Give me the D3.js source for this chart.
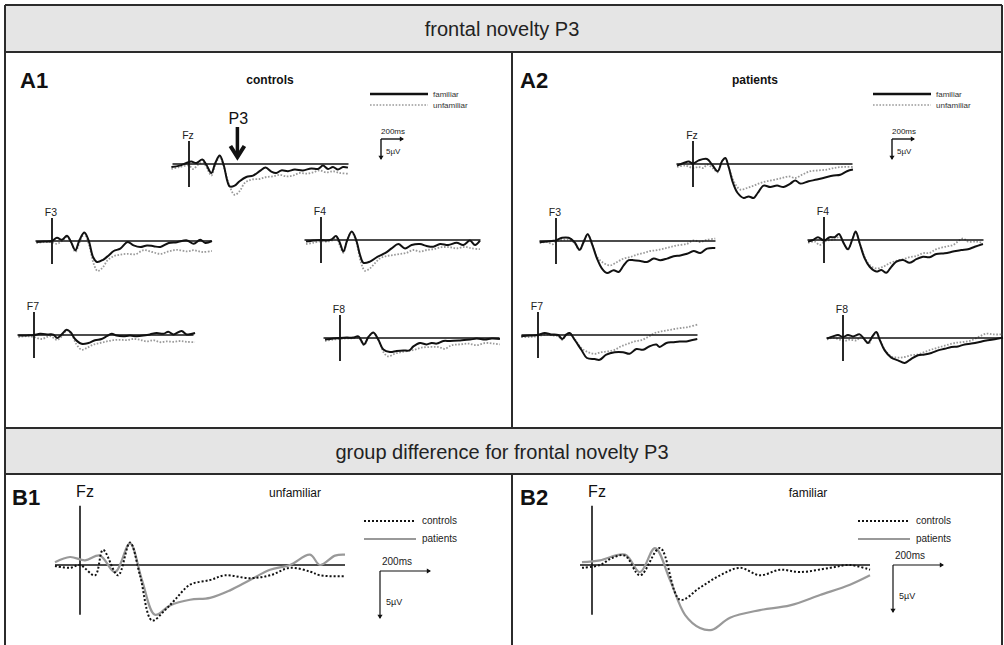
<!DOCTYPE html>
<html><head><meta charset="utf-8">
<script src="https://cdn.jsdelivr.net/npm/d3@7"></script>
<style>body{margin:0;background:#fff}svg{display:block;font-family:"Liberation Sans",Arial,sans-serif}</style>
</head><body><script>
// ---------- DATA (time in ms, amplitude in µV; positive plotted downward) ----------
const panelTitles = ["frontal novelty P3", "group difference for frontal novelty P3"];
const conditionsA = ["familiar", "unfamiliar"];
const groupsB = ["controls", "patients"];
const channelsA = ["Fz", "F3", "F4", "F7", "F8"];

const A1_Fz_familiar = [[-160,0.75],[-85,0.4],[-24,-0.25],[21,-0.6],[67,-0.25],[121,-1.1],[158,0.2],[203,2.25],[239,-0.25],[279,-2.1],[315,0.2],[345,3.9],[370,5.6],[415,5.4],[460,4.3],[521,3.25],[582,2.9],[642,1.8],[697,0.9],[748,1.9],[794,2.25],[839,1.6],[900,1.8],[960,1.4],[1036,1.6],[1112,1.1],[1173,1.25],[1218,0.4],[1264,1.25],[1309,0.75],[1354,1.4],[1400,0.75],[1445,0.9]];
const A1_Fz_unfamiliar = [[-160,1.25],[-85,0.75],[0,0.4],[36,1.25],[82,0.2],[127,-0.4],[158,0.75],[203,2.9],[239,0.2],[279,-1.75],[324,1.4],[370,5.6],[415,7.7],[460,6.8],[506,4.75],[567,3.9],[642,3.75],[703,3.25],[764,3.1],[824,2.7],[885,3.1],[945,2.9],[1006,2.25],[1067,2.4],[1127,2.1],[1188,1.6],[1248,2.1],[1309,1.8],[1370,2.25],[1445,2.4]];
const A1_F3_familiar = [[-142,0.25],[-76,0.15],[0,0],[45,-0.8],[91,-0.3],[136,-1.3],[173,0.25],[212,2.3],[251,-0.3],[294,-2.1],[333,-0.15],[373,4],[409,5.25],[464,4.7],[515,3.6],[561,2.5],[621,1.9],[688,0.25],[742,1.1],[803,1.5],[864,1.1],[924,1.3],[985,1.5],[1061,0.5],[1136,0.3],[1227,-0.15],[1288,0.7],[1348,-0.3],[1394,0.5],[1454,0]];
const A1_F3_unfamiliar = [[-142,0.5],[-76,0.3],[0,0.3],[45,0.7],[91,0],[136,-1],[182,0.8],[212,2.75],[258,-0.15],[294,-1.8],[342,1.5],[379,5.7],[415,7.5],[464,6.5],[506,4.8],[561,3.8],[621,3.4],[682,3.2],[758,3.3],[833,2.3],[909,2.75],[985,3.2],[1061,2.6],[1136,2.2],[1227,2.6],[1288,2.3],[1364,2.75],[1454,2.5]];
const A1_F4_familiar = [[-136,0.4],[-70,0.15],[0,0],[52,0.15],[97,-0.15],[136,-1],[173,0.8],[203,2.9],[239,0],[279,-2.1],[318,-0.15],[355,3.75],[385,5.7],[445,5.4],[512,4.2],[582,3.3],[642,2.1],[703,1],[764,2.1],[824,1.25],[900,1],[960,1.5],[1021,1.7],[1082,1],[1157,1.25],[1233,0.7],[1294,1.25],[1354,0.15],[1400,1.25],[1445,0.15]];
const A1_F4_unfamiliar = [[-136,1],[-70,0.7],[0,0.3],[52,0.4],[97,0.15],[136,-0.7],[173,1.5],[203,3.2],[239,0],[279,-1.9],[324,0.8],[361,5.4],[400,7.7],[445,7.1],[491,5.8],[536,4.6],[597,4],[658,3.75],[718,3.5],[779,3.2],[839,2.5],[900,2.9],[960,2.5],[1021,2.3],[1097,1.8],[1173,1.8],[1233,2.1],[1309,1.7],[1370,2.1],[1445,2.3]];
const A1_F7_familiar = [[-142,0.15],[-67,0.1],[0,0],[55,-0.3],[130,-0.15],[176,-0.1],[212,0.75],[251,-0.15],[297,-1.3],[333,-0.7],[373,1],[433,2.2],[494,2],[554,1.3],[615,1],[661,0.3],[706,-0.3],[751,0.15],[812,0.3],[873,0.15],[933,0.3],[994,0.15],[1054,-0.15],[1115,-0.5],[1176,-0.3],[1221,-0.8],[1267,-0.15],[1342,-1],[1388,-0.15],[1464,-0.5]];
const A1_F7_unfamiliar = [[-142,0.5],[-67,0.3],[0,0.5],[70,1],[145,0.3],[212,1.2],[267,-0.15],[297,-1.2],[342,-0.1],[388,2.4],[433,3.7],[479,3.25],[539,2.4],[600,2],[661,1.6],[721,1.3],[782,1.2],[842,1.3],[903,1],[964,1.2],[1024,1.6],[1085,1.3],[1145,1.8],[1206,1.6],[1267,1.7],[1327,1.5],[1388,1.7],[1464,1.8]];
const A1_F8_familiar = [[-136,0.4],[-61,0.15],[0,0],[61,-0.1],[121,-0.1],[167,-0.4],[218,1.6],[258,-0.25],[303,-1.4],[348,0.4],[394,2.9],[454,3.5],[515,3.25],[576,3.1],[630,3.1],[667,2.1],[727,1.25],[788,1.6],[833,1.25],[879,1.4],[939,0.75],[1000,0.75],[1091,0.6],[1182,0.4],[1242,0.15],[1318,0.4],[1379,0.15],[1454,0.25]];
const A1_F8_unfamiliar = [[-136,0.75],[-61,0.4],[0,0.25],[61,0.1],[121,0.1],[167,-0.1],[218,1.8],[258,-0.1],[303,-1.25],[358,1],[400,3.75],[439,4.6],[500,3.9],[561,3.5],[621,3.25],[682,2.9],[742,2.4],[818,2.25],[894,2.25],[954,2.7],[1015,1.8],[1091,1.6],[1167,1.4],[1242,1.8],[1318,1.25],[1394,1.4],[1454,1.6]];

const A2_Fz_familiar = [[-145,0.4],[-85,-0.25],[-39,-0.6],[0,-0.1],[52,-0.9],[127,-1.25],[173,0.15],[224,1.8],[264,-0.7],[294,-1.5],[324,0.75],[364,4.75],[406,7.25],[461,8.5],[506,8.1],[552,8.5],[588,7.25],[642,5.4],[703,5.75],[764,5.4],[824,5.75],[885,4.9],[930,4.1],[976,4.9],[1051,4.3],[1127,3.9],[1218,3.25],[1279,2.9],[1339,2.7],[1400,1.8],[1454,1.4]];
const A2_Fz_unfamiliar = [[-145,0.75],[-70,0.4],[0,1],[52,0.75],[97,1],[127,0.15],[188,1.25],[224,2.1],[264,-0.7],[294,-1.3],[324,0.75],[370,4.3],[430,6.4],[491,6],[552,5.4],[612,4.75],[673,4.3],[748,3.9],[809,3.5],[870,3.1],[930,3.5],[991,2.7],[1067,1.8],[1142,1.6],[1218,1.4],[1279,1],[1354,0.75],[1454,0.75]];
const A2_F3_familiar = [[-148,0.3],[-82,0.15],[-36,0],[0,-0.15],[55,-0.8],[115,-0.8],[167,0.25],[215,2.2],[251,0.25],[288,-1.7],[327,0.7],[373,4.4],[418,6.9],[464,8],[524,7.3],[570,7.75],[615,6.1],[661,4.8],[706,4.8],[767,5],[827,5.25],[888,4.4],[948,4.8],[1009,4.4],[1070,3.8],[1130,3.6],[1191,3.2],[1251,2.5],[1312,3],[1373,1.9],[1448,1.75]];
const A2_F3_unfamiliar = [[-148,0.5],[-82,0.25],[-27,0.8],[9,0],[70,-0.3],[115,-0.3],[167,0.5],[215,2.3],[251,0.25],[288,-1.7],[327,0.7],[373,4],[433,5.5],[494,6.1],[555,5.25],[615,4.4],[676,4],[736,3.4],[797,3],[858,2.5],[918,2.3],[979,1.9],[1039,1.5],[1100,1.1],[1191,0.7],[1251,-0.15],[1312,0.25],[1373,-0.3],[1448,-0.6]];
const A2_F4_familiar = [[-145,0.4],[-100,0],[-55,-0.7],[0,0.15],[52,-0.7],[97,-0.7],[136,-1.5],[179,0.8],[218,2.3],[258,-0.15],[288,-2.1],[324,0.8],[370,4.6],[415,6.7],[476,7.9],[521,7.5],[567,8.2],[612,6.7],[658,5.4],[718,5],[779,5.7],[839,4.8],[900,4.2],[960,4.3],[1021,3.5],[1097,3.3],[1173,2.9],[1248,2.5],[1309,2.3],[1370,1.7],[1445,1]];
const A2_F4_unfamiliar = [[-145,0.7],[-85,0.4],[-39,1.25],[6,0.4],[52,0],[97,-0.15],[142,-0.8],[188,1.25],[218,2.5],[258,-0.15],[288,-1.9],[324,0.8],[370,4.3],[415,6.25],[476,7.1],[536,6.7],[597,5.8],[658,5.2],[718,4.8],[779,4.3],[839,4],[900,3.3],[960,3.2],[1021,2.3],[1097,1.7],[1173,1.25],[1264,-0.4],[1309,0.4],[1385,0.4],[1445,0.7]];
const A2_F7_familiar = [[-152,0.3],[-76,0.15],[0,0],[61,-0.5],[121,-0.15],[182,0],[221,1],[258,-0.15],[288,-0.5],[333,1.2],[394,3.7],[445,5.75],[515,6],[561,6.2],[621,4.9],[697,4.3],[773,4.3],[833,4.7],[894,3.5],[955,3.7],[1015,2.8],[1076,2.4],[1106,3],[1167,2],[1227,1.8],[1288,1.6],[1348,1.6],[1394,1.3],[1448,1]];
const A2_F7_unfamiliar = [[-152,0.5],[-76,0.5],[0,0.3],[76,-0.15],[136,0.15],[182,0.3],[221,1.2],[258,-0.15],[288,-0.3],[333,1],[394,3.25],[455,4.3],[515,4.7],[576,4.3],[636,4.1],[697,3.7],[758,2.8],[818,2.2],[879,1.6],[939,1.3],[1000,0.5],[1061,-0.5],[1121,-0.9],[1182,-1.2],[1242,-1.5],[1303,-1.75],[1364,-2],[1448,-2.6]];
const A2_F8_familiar = [[-145,0.15],[-91,-0.4],[-45,-0.75],[0,-0.25],[45,-0.75],[91,-0.4],[152,-0.9],[197,0.4],[227,1.25],[267,-0.4],[303,-1.5],[333,0.4],[379,3.1],[439,4.9],[500,5.6],[561,6.25],[621,5.2],[682,4.3],[742,4.1],[803,3.75],[864,3.1],[924,2.7],[985,2.25],[1045,2.1],[1106,1.6],[1167,1.4],[1242,1],[1303,0.6],[1364,0.4],[1454,-0.1]];
const A2_F8_unfamiliar = [[-145,0.4],[-91,-0.1],[-30,0.4],[15,0.75],[61,0.4],[121,0.6],[167,-0.4],[212,1],[236,1.4],[267,-0.25],[303,-1.3],[339,0.6],[379,2.9],[439,4.6],[500,4.9],[561,4.75],[621,4.3],[682,4.1],[742,3.5],[803,2.9],[864,2.4],[939,1.8],[1015,1.25],[1091,1],[1167,0.6],[1242,-0.4],[1303,-1.1],[1364,-0.9],[1454,-0.9]];

const B1_unfamiliar_controls = [[-100,0.1],[-40,0.3],[0,0],[60,1.1],[92,-1.6],[152,1.1],[200,-2.4],[240,1.1],[288,5.9],[340,4.8],[380,3.7],[440,2.1],[520,1.6],[580,1.1],[680,1.4],[760,1.1],[840,0.3],[920,0.7],[960,1.1],[1060,1.2]];
const B1_unfamiliar_patients = [[-100,-0.3],[-40,-0.85],[20,-0.5],[80,-1],[140,0.75],[200,-2.3],[248,1.6],[300,5.3],[360,4.3],[440,3.7],[520,3.5],[600,2.7],[680,1.6],[760,0.5],[840,0],[920,-1.1],[960,0],[1020,-1],[1060,-1.1]];
const B2_familiar_controls = [[-40,0.3],[32,0],[80,-0.75],[132,-1],[192,1.1],[272,-1.8],[352,3.7],[432,2.4],[512,1.1],[592,0.3],[672,1.1],[752,0.5],[832,0.75],[952,0.3],[1032,0],[1112,0.5]];
const B2_familiar_patients = [[-40,-0.3],[32,-0.5],[132,-1.1],[192,0.75],[252,-1.8],[312,1.6],[372,5.3],[432,6.7],[480,6.9],[552,5.6],[672,4.8],[792,4.3],[912,3.2],[1032,2.1],[1112,1.1]];

const scaleBarTime = 200; // ms
const scaleBarAmp = 5;    // µV

// ---------- LAYOUT ----------
const W = 1004, H = 645;
const svg = d3.select("body").append("svg").attr("width", W).attr("height", H);
const FR = "#2b2b2b";

// bands
svg.append("rect").attr("x",5).attr("y",5).attr("width",997).attr("height",47).attr("fill","#e5e5e5");
svg.append("rect").attr("x",5).attr("y",428).attr("width",997).attr("height",46).attr("fill","#e5e5e5");
const frameLines = [[5,5,1002,5],[5,52,1002,52],[5,428,1002,428],[5,474,1002,474],[5,5,5,645],[1002,5,1002,645],[512,52,512,428],[512,474,512,645]];
svg.selectAll("line.frame").data(frameLines).join("line").attr("class","frame")
  .attr("x1",d=>d[0]).attr("y1",d=>d[1]).attr("x2",d=>d[2]).attr("y2",d=>d[3])
  .attr("stroke",FR).attr("stroke-width",2);
svg.append("text").attr("x",502).attr("y",36).attr("text-anchor","middle").attr("font-size",20).attr("fill","#222").text(panelTitles[0]);
svg.append("text").attr("x",502).attr("y",459).attr("text-anchor","middle").attr("font-size",20).attr("fill","#222").text(panelTitles[1]);

function arrowHead(g, x, y, dir, size){
  const s = size;
  const pts = dir === "right" ? [[x,y],[x-s*1.6,y-s],[x-s*1.6,y+s]] : [[x,y],[x-s,y-s*1.6],[x+s,y-s*1.6]];
  g.append("path").attr("d", d3.line()(pts)+"Z").attr("fill","#111");
}

// ---------- A panels ----------
const A_PX_PER_MS = 0.11, A_PX_PER_UV = 4;
const A_DOMAIN = [-150, 1450];
const aPlots = [
  {ch:"Fz", ox:189, by:164, fam:A1_Fz_familiar, unf:A1_Fz_unfamiliar},
  {ch:"F3", ox:52,  by:241, fam:A1_F3_familiar, unf:A1_F3_unfamiliar},
  {ch:"F4", ox:321, by:240, fam:A1_F4_familiar, unf:A1_F4_unfamiliar},
  {ch:"F7", ox:34,  by:335, fam:A1_F7_familiar, unf:A1_F7_unfamiliar},
  {ch:"F8", ox:340, by:338, fam:A1_F8_familiar, unf:A1_F8_unfamiliar},
  {ch:"Fz", ox:693, by:164, fam:A2_Fz_familiar, unf:A2_Fz_unfamiliar},
  {ch:"F3", ox:556, by:241, fam:A2_F3_familiar, unf:A2_F3_unfamiliar},
  {ch:"F4", ox:824, by:240, fam:A2_F4_familiar, unf:A2_F4_unfamiliar},
  {ch:"F7", ox:538, by:335, fam:A2_F7_familiar, unf:A2_F7_unfamiliar},
  {ch:"F8", ox:843, by:338, fam:A2_F8_familiar, unf:A2_F8_unfamiliar}
];
aPlots.forEach(p => {
  const g = svg.append("g");
  const x = d3.scaleLinear().domain(A_DOMAIN).range([p.ox + A_DOMAIN[0]*A_PX_PER_MS, p.ox + A_DOMAIN[1]*A_PX_PER_MS]);
  const y = d3.scaleLinear().domain([0, 1]).range([p.by, p.by + A_PX_PER_UV]);
  const line = d3.line().x(d=>x(d[0])).y(d=>y(d[1])).curve(d3.curveCatmullRom.alpha(0.5));
  g.append("path").attr("d", line(p.unf)).attr("fill","none").attr("stroke","#9a9a9a").attr("stroke-width",1.8).attr("stroke-dasharray","1.6,1.6");
  g.append("line").attr("x1",x(A_DOMAIN[0])).attr("x2",x(Math.min(A_DOMAIN[1], x.invert(1004)))).attr("y1",y(0)).attr("y2",y(0)).attr("stroke","#111").attr("stroke-width",1.6);
  g.append("line").attr("x1",x(0)).attr("x2",x(0)).attr("y1",y(-5.75)).attr("y2",y(5.75)).attr("stroke","#111").attr("stroke-width",1.8);
  g.append("path").attr("d", line(p.fam)).attr("fill","none").attr("stroke","#111").attr("stroke-width",2);
  g.append("text").attr("x",x(0)-1).attr("y",y(-5.75)-2).attr("text-anchor","middle").attr("font-size",10.5).attr("fill","#222").text(p.ch);
});

// A headers, legends, scale bars
const aHeaders = [{id:"A1", lx:20, title:"controls", tx:270, dx:0, sx:0}, {id:"A2", lx:520, title:"patients", tx:755, dx:503, sx:511}];
aHeaders.forEach(h => {
  svg.append("text").attr("x",h.lx).attr("y",88).attr("font-size",22).attr("font-weight","bold").attr("fill","#111").text(h.id);
  svg.append("text").attr("x",h.tx).attr("y",84).attr("text-anchor","middle").attr("font-size",12).attr("font-weight","bold").attr("fill","#111").text(h.title);
  const lg = svg.append("g").attr("transform",`translate(${h.dx},0)`);
  lg.append("line").attr("x1",370).attr("x2",428).attr("y1",94).attr("y2",94).attr("stroke","#111").attr("stroke-width",2.5);
  lg.append("line").attr("x1",370).attr("x2",428).attr("y1",105).attr("y2",105).attr("stroke","#9a9a9a").attr("stroke-width",1.6).attr("stroke-dasharray","1.6,1.6");
  lg.append("text").attr("x",433).attr("y",97).attr("font-size",8).attr("fill","#333").text(conditionsA[0]);
  lg.append("text").attr("x",433).attr("y",108).attr("font-size",8).attr("fill","#333").text(conditionsA[1]);
  const sg = svg.append("g").attr("transform",`translate(${h.sx},0)`);
  const bx = 381, byy = 139;
  const tLen = scaleBarTime*A_PX_PER_MS, vLen = scaleBarAmp*A_PX_PER_UV;
  sg.append("line").attr("x1",bx).attr("x2",bx+tLen).attr("y1",byy).attr("y2",byy).attr("stroke","#111").attr("stroke-width",1.4);
  sg.append("line").attr("x1",bx).attr("x2",bx).attr("y1",byy).attr("y2",byy+vLen).attr("stroke","#111").attr("stroke-width",1.4);
  arrowHead(sg, bx+tLen+1, byy, "right", 2.6);
  arrowHead(sg, bx, byy+vLen+1, "down", 2.6);
  sg.append("text").attr("x",bx).attr("y",byy-5).attr("font-size",8).attr("fill","#222").text(scaleBarTime+"ms");
  sg.append("text").attr("x",bx+5).attr("y",byy+15).attr("font-size",8).attr("fill","#222").text(scaleBarAmp+"µV");
});

// P3 arrow
{
  const p = aPlots[0];
  const x = d3.scaleLinear().domain(A_DOMAIN).range([p.ox + A_DOMAIN[0]*A_PX_PER_MS, p.ox + A_DOMAIN[1]*A_PX_PER_MS]);
  const ax = x(440);
  const g = svg.append("g");
  g.append("text").attr("x",ax+1).attr("y",124).attr("text-anchor","middle").attr("font-size",16).attr("fill","#111").text("P3");
  g.append("line").attr("x1",ax).attr("x2",ax).attr("y1",127).attr("y2",157).attr("stroke","#111").attr("stroke-width",3.5);
  g.append("path").attr("d",`M${ax-7},${146} L${ax},${157} L${ax+7},${146}`).attr("fill","none").attr("stroke","#111").attr("stroke-width",4).attr("stroke-linejoin","miter");
}

// ---------- B panels ----------
const B_PX_PER_MS = 0.25, B_PX_PER_UV = 9.4;
const bPlots = [
  {id:"B1", lx:12, cond:"unfamiliar", cx:295, ox:80, by:565, domain:[-100,1060], ctrl:B1_unfamiliar_controls, pat:B1_unfamiliar_patients, legX:364, sx:380, sy:571},
  {id:"B2", lx:520, cond:"familiar", cx:808, ox:592, by:565, domain:[-48,1112], ctrl:B2_familiar_controls, pat:B2_familiar_patients, legX:858, sx:893, sy:565}
];
bPlots.forEach(p => {
  const g = svg.append("g");
  const x = d3.scaleLinear().domain(p.domain).range([p.ox + p.domain[0]*B_PX_PER_MS, p.ox + p.domain[1]*B_PX_PER_MS]);
  const y = d3.scaleLinear().domain([0,1]).range([p.by, p.by + B_PX_PER_UV]);
  const line = d3.line().x(d=>x(d[0])).y(d=>y(d[1])).curve(d3.curveCatmullRom.alpha(0.5));
  g.append("line").attr("x1",x(p.domain[0])).attr("x2",x(p.domain[1])).attr("y1",y(0)).attr("y2",y(0)).attr("stroke","#111").attr("stroke-width",1.6);
  g.append("line").attr("x1",x(0)).attr("x2",x(0)).attr("y1",y(-6.3)).attr("y2",y(5.3)).attr("stroke","#111").attr("stroke-width",1.6);
  g.append("path").attr("d", line(p.pat)).attr("fill","none").attr("stroke","#999").attr("stroke-width",2.2);
  g.append("path").attr("d", line(p.ctrl)).attr("fill","none").attr("stroke","#111").attr("stroke-width",2).attr("stroke-dasharray","2,2");
  g.append("text").attr("x",x(0)+5).attr("y",y(-6.3)-9).attr("text-anchor","middle").attr("font-size",16).attr("fill","#111").text("Fz");
  svg.append("text").attr("x",p.lx).attr("y",505).attr("font-size",22).attr("font-weight","bold").attr("fill","#111").text(p.id);
  svg.append("text").attr("x",p.cx).attr("y",497).attr("text-anchor","middle").attr("font-size",12).attr("fill","#111").text(p.cond);
  // legend
  g.append("line").attr("x1",p.legX).attr("x2",p.legX+52).attr("y1",521).attr("y2",521).attr("stroke","#111").attr("stroke-width",2).attr("stroke-dasharray","2,2");
  g.append("line").attr("x1",p.legX).attr("x2",p.legX+52).attr("y1",539).attr("y2",539).attr("stroke","#999").attr("stroke-width",2.2);
  g.append("text").attr("x",p.legX+58).attr("y",524).attr("font-size",10).attr("fill","#222").text(groupsB[0]);
  g.append("text").attr("x",p.legX+58).attr("y",542).attr("font-size",10).attr("fill","#222").text(groupsB[1]);
  // scale bar
  const tLen = scaleBarTime*B_PX_PER_MS, vLen = scaleBarAmp*B_PX_PER_UV;
  g.append("line").attr("x1",p.sx).attr("x2",p.sx+tLen).attr("y1",p.sy).attr("y2",p.sy).attr("stroke","#111").attr("stroke-width",1.2);
  g.append("line").attr("x1",p.sx).attr("x2",p.sx).attr("y1",p.sy).attr("y2",p.sy+vLen).attr("stroke","#111").attr("stroke-width",1.2);
  arrowHead(g, p.sx+tLen+1, p.sy, "right", 2.6);
  arrowHead(g, p.sx, p.sy+vLen+1, "down", 2.6);
  g.append("text").attr("x",p.sx+2).attr("y",p.sy-6).attr("font-size",10).attr("fill","#222").text(scaleBarTime+"ms");
  g.append("text").attr("x",p.sx+6).attr("y",p.sy+34).attr("font-size",9).attr("fill","#222").text(scaleBarAmp+"µV");
});
</script></body></html>
